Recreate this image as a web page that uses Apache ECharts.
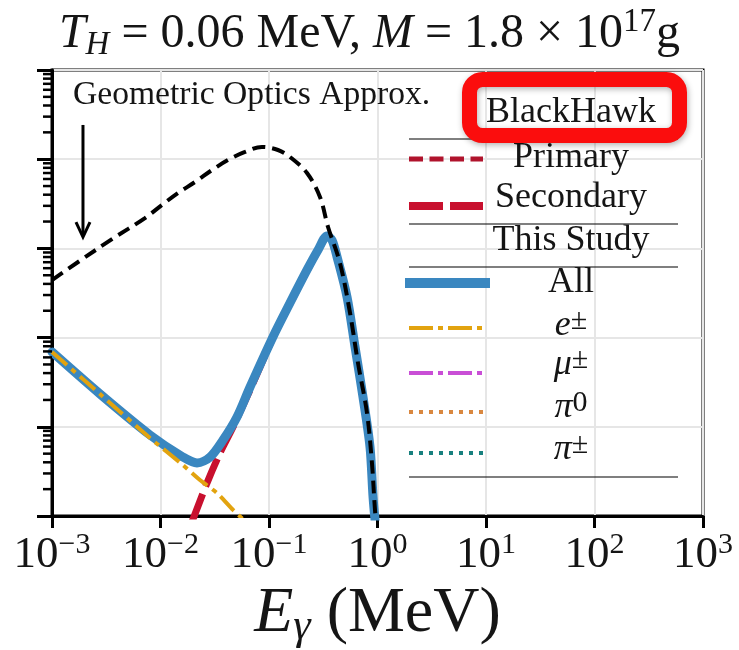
<!DOCTYPE html>
<html><head><meta charset="utf-8">
<script src="https://cdn.jsdelivr.net/npm/echarts@6/dist/echarts.min.js"></script>
<style>html,body{margin:0;padding:0;background:#fff}#c{width:739px;height:650px}</style>
</head><body><div id="c"></div>
<script>
const FONT = '"Liberation Serif", "DejaVu Serif", serif';
const TXT = '#151515';

// Geometric optics approximation (black dashed)
const geoE = [1.00e-3, 1.74e-3, 3.57e-3, 7.19e-3, 1.03e-2, 1.45e-2, 2.08e-2, 2.99e-2, 4.19e-2, 6.01e-2, 8.61e-2, 0.121, 0.156, 0.224, 0.295, 0.350, 0.451, 0.558, 0.661, 0.800, 0.889, 0.948, 0.989];
const geoY = [4.42e-3, 7.04e-3, 1.27e-2, 2.19e-2, 3.07e-2, 4.18e-2, 5.55e-2, 7.57e-2, 9.79e-2, 0.1205, 0.1371, 0.1268, 0.1059, 0.0700, 0.0377, 0.01738, 6.85e-3, 1.89e-3, 5.19e-4, 1.43e-4, 3.93e-5, 1.17e-5, 6.97e-6];

// This Study: All (blue)
const allE = [1.00e-3, 2.77e-3, 8.00e-3, 1.61e-2, 2.17e-2, 2.86e-2, 3.77e-2, 5.07e-2, 6.68e-2, 0.1088, 0.156, 0.224, 0.283, 0.343, 0.381, 0.424, 0.524, 0.621, 0.735, 0.853, 0.910, 0.968];
const allY = [6.90e-4, 2.33e-4, 8.09e-5, 4.58e-5, 3.93e-5, 4.58e-5, 7.11e-5, 1.29e-4, 2.79e-4, 1.02e-3, 2.44e-3, 5.73e-3, 9.59e-3, 1.38e-2, 1.24e-2, 8.01e-3, 2.85e-3, 7.85e-4, 2.16e-4, 5.94e-5, 1.63e-5, 6.97e-6];

// BlackHawk secondary (red)
const secE = [1.95e-2, 2.68e-2, 3.53e-2, 4.66e-2, 6.68e-2, 0.1088, 0.156, 0.224, 0.283, 0.343, 0.381, 0.424, 0.524, 0.621, 0.735, 0.853, 0.910, 0.968];
const secY = [8.57e-6, 2.34e-5, 5.08e-5, 9.95e-5, 2.59e-4, 1.00e-3, 2.40e-3, 5.65e-3, 9.45e-3, 1.36e-2, 1.22e-2, 7.90e-3, 2.80e-3, 7.75e-4, 2.13e-4, 5.85e-5, 1.60e-5, 6.90e-6];

// e± contribution (gold dash-dot)
const eE = [1.00e-3, 2.77e-3, 8.00e-3, 1.61e-2, 2.31e-2, 3.32e-2, 4.66e-2, 6.01e-2];
const eY = [6.90e-4, 2.33e-4, 7.48e-5, 3.73e-5, 2.53e-5, 1.81e-5, 1.17e-5, 8.79e-6];

// axes
const xMin = 1e-3, xMax = 1e3, yMin = 1e-5, yMax = 1;
const yMinorTicks = [];
for (let d = -5; d < 0; d++) for (let k = 2; k <= 9; k++) yMinorTicks.push([xMin, k * Math.pow(10, d)]);

// annotation (data coords)
const arrowX = 1.93e-3, arrowYFrom = 0.242, arrowYTo = 0.0134;

const C = {
  primary: '#b0132c', secondary: '#c8102e', all: '#3a87c0',
  e: '#e2a30f', mu: '#c94fd6', pi0: '#d9873f', pipm: '#17807e'
};

const pair = (xs, ys) => xs.map((x, i) => [x, ys[i]]);

const chart = echarts.init(document.getElementById('c'));

const supFmt = v => {
  const e = Math.round(Math.log10(v));
  return '{b|10}{s|' + (e < 0 ? '\u2212' + (-e) : e) + '}';
};

chart.setOption({
  animation: false,
  backgroundColor: '#fff',
  title: {
    left: 'center', top: 6, padding: 0,
    text: '{i|T}{sub|H}{n| = 0.06 MeV, }{i|M}{n| = 1.8 \u00d7 10}{sup|17}{n|g}',
    textStyle: {
      fontWeight: 'normal',
      rich: {
        n: {fontFamily: FONT, fontWeight: 'normal', fontSize: 48, lineHeight: 56, color: TXT},
        i: {fontFamily: FONT, fontWeight: 'normal', fontStyle: 'italic', fontSize: 48, lineHeight: 56, color: TXT},
        sub: {fontFamily: FONT, fontWeight: 'normal', fontStyle: 'italic', fontSize: 33, lineHeight: 36, verticalAlign: 'bottom', color: TXT},
        sup: {fontFamily: FONT, fontWeight: 'normal', fontSize: 33, lineHeight: 30, verticalAlign: 'top', color: TXT}
      }
    }
  },
  grid: {left: 52, right: 36, top: 70, bottom: 134, show: true, borderColor: '#000', borderWidth: 3, outerBoundsMode: 'none', containLabel: false},
  xAxis: {
    type: 'log', logBase: 10, min: xMin, max: xMax, splitNumber: 6,
    axisLine: {show: true, lineStyle: {color: '#000', width: 3}},
    axisTick: {show: true, length: 12, lineStyle: {color: '#000', width: 3}},
    minorTick: {show: false},
    splitLine: {show: true, lineStyle: {color: '#e6e6e6', width: 2}},
    axisLabel: {
      margin: 14, formatter: supFmt, hideOverlap: false, showMinLabel: true, showMaxLabel: true,
      rich: {
        b: {fontFamily: FONT, fontSize: 45, lineHeight: 50, color: TXT},
        s: {fontFamily: FONT, fontSize: 30, lineHeight: 26, verticalAlign: 'top', color: TXT}
      }
    },
    name: '{i|E}{sub|\u03b3}{n| (MeV)}',
    nameLocation: 'middle', nameGap: 60,
    nameTextStyle: {
      rich: {
        i: {fontFamily: FONT, fontStyle: 'italic', fontSize: 64, lineHeight: 70, color: TXT},
        sub: {fontFamily: FONT, fontStyle: 'italic', fontSize: 44, lineHeight: 40, verticalAlign: 'bottom', color: TXT},
        n: {fontFamily: FONT, fontSize: 64, lineHeight: 70, color: TXT}
      }
    }
  },
  yAxis: {
    type: 'log', logBase: 10, min: yMin, max: yMax, splitNumber: 5,
    axisLine: {show: true, lineStyle: {color: '#000', width: 3}},
    axisTick: {show: true, length: 15, lineStyle: {color: '#000', width: 3}},
    splitLine: {show: true, lineStyle: {color: '#e6e6e6', width: 2}},
    axisLabel: {show: false}
  },
  series: [
    {
      name: 'Secondary', type: 'line', data: pair(secE, secY), showSymbol: false, symbol: 'none',
      smooth: 0.3, z: 2, lineStyle: {color: C.secondary, width: 7, type: [30, 8], cap: 'butt'}
    },
    {
      name: 'All', type: 'line', data: pair(allE, allY), showSymbol: false, symbol: 'none',
      smooth: 0.3, z: 3, lineStyle: {color: C.all, width: 9, cap: 'round', join: 'round'}
    },
    {
      name: 'e', type: 'line', data: pair(eE, eY), showSymbol: false, symbol: 'none',
      smooth: 0.2, z: 4, lineStyle: {color: C.e, width: 4, type: [20, 6, 5, 6]}
    },
    {
      name: 'Geometric', type: 'line', data: pair(geoE, geoY), showSymbol: false, symbol: 'none',
      smooth: 0.35, z: 5, lineStyle: {color: '#000', width: 4, type: [13, 7]}
    },
    {
      name: 'yMinor', type: 'custom', data: yMinorTicks, clip: false, z: 6, silent: true,
      renderItem: (params, api) => {
        const p = api.coord([api.value(0), api.value(1)]);
        return {type: 'line', shape: {x1: p[0] - 9, y1: p[1], x2: p[0], y2: p[1]}, style: {stroke: '#000', lineWidth: 2.5}};
      }
    }
  ]
});

// annotation + legend built from converted positions
const a0 = chart.convertToPixel({gridIndex: 0}, [arrowX, arrowYFrom]);
const a1 = chart.convertToPixel({gridIndex: 0}, [arrowX, arrowYTo]);

const LX1 = 409, LX2 = 483, TX = 571, LR = 678;
const hline = y => ({type: 'line', z: 50, shape: {x1: LX1, y1: y, x2: LR, y2: y}, style: {stroke: '#000', lineWidth: 1.2}});
const handle = (y, color, w, dash, x1, x2) => ({type: 'line', z: 50, shape: {x1: x1 || LX1, y1: y, x2: x2 || LX2, y2: y}, style: {stroke: color, lineWidth: w, lineDash: dash || null, lineCap: 'butt'}});
const label = (y, text) => ({type: 'text', z: 50, x: TX, y: y, style: {text: text, fontFamily: FONT, fontSize: 36, fill: TXT, align: 'center', verticalAlign: 'middle'}});
const richLabel = (y, base, sup) => ({type: 'text', z: 50, x: TX, y: y, style: {
  text: '{i|' + base + '}{s|' + sup + '}', align: 'center', verticalAlign: 'middle', fill: TXT,
  rich: {
    i: {fontFamily: FONT, fontStyle: 'italic', fontSize: 36, lineHeight: 40, fill: TXT},
    s: {fontFamily: FONT, fontSize: 30, lineHeight: 26, verticalAlign: 'top', fill: TXT}
  }
}});

chart.setOption({
  graphic: [
    {type: 'text', z: 50, x: 73, y: 95, style: {text: 'Geometric Optics Approx.', fontFamily: FONT, fontSize: 33.6, fill: TXT, align: 'left', verticalAlign: 'middle'}},
    {type: 'line', z: 50, shape: {x1: a0[0], y1: a0[1], x2: a1[0], y2: a1[1] - 2}, style: {stroke: '#000', lineWidth: 3}},
    {type: 'polyline', z: 50, shape: {points: [[a1[0] - 7, a1[1] - 15], [a1[0], a1[1]], [a1[0] + 7, a1[1] - 15]]}, style: {stroke: '#000', lineWidth: 3, fill: null, lineJoin: 'miter'}},
    hline(139), hline(224), hline(267), hline(477),
    label(113, 'BlackHawk'),
    handle(159, C.primary, 5, [14, 6.5]), label(158, 'Primary'),
    handle(206, C.secondary, 8, [34, 7]), label(198, 'Secondary'),
    label(241, 'This Study'),
    handle(283, C.all, 10, null, 405, 490), label(283, 'All'),
    handle(328, C.e, 4, [24, 5, 5, 5]), richLabel(326, 'e', '\u00b1'),
    handle(373, C.mu, 4, [24, 5, 5, 5]), richLabel(365, '\u03bc', '\u00b1'),
    handle(412, C.pi0, 4, [4, 6]), richLabel(408, '\u03c0', '0'),
    handle(453, C.pipm, 4, [4, 6]), richLabel(450, '\u03c0', '\u00b1'),
    {type: 'rect', z: 60, shape: {x: 469.5, y: 79.5, width: 210, height: 56, r: 13},
      style: {fill: null, stroke: '#fb0d0d', lineWidth: 15, shadowBlur: 6, shadowColor: 'rgba(0,0,0,0.3)', shadowOffsetX: 1, shadowOffsetY: 2}}
  ]
});
</script>
</body></html>
